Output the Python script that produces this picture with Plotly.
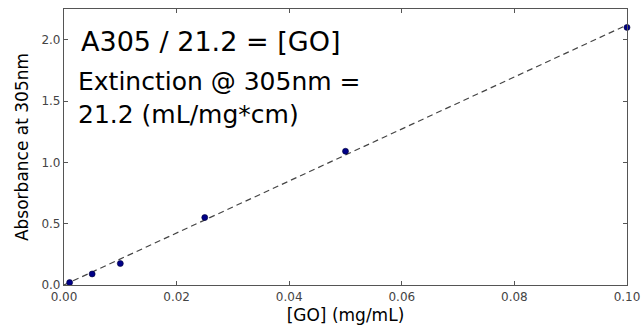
import plotly.graph_objects as go

go_conc = [0.001, 0.005, 0.01, 0.025, 0.05, 0.1]
absorbance = [0.02, 0.09, 0.175, 0.55, 1.09, 2.1]
slope = 21.2
fit_x = [0.0, 0.1]
fit_y = [slope * v for v in fit_x]
x_ticks = [0.0, 0.02, 0.04, 0.06, 0.08, 0.10]
x_tick_labels = ["0.00", "0.02", "0.04", "0.06", "0.08", "0.10"]
y_ticks = [0.0, 0.5, 1.0, 1.5, 2.0]
y_tick_labels = ["0.0", "0.5", "1.0", "1.5", "2.0"]

font = "DejaVu Sans"
fig = go.Figure()
fig.add_trace(go.Scatter(x=fit_x, y=fit_y, mode="lines",
                         line=dict(color="#444444", width=1.2, dash="6px,4px"),
                         showlegend=False, cliponaxis=True))
fig.add_trace(go.Scatter(x=go_conc, y=absorbance, mode="markers",
                         marker=dict(color="#000088", size=6, line=dict(color="#000033", width=0.6)),
                         showlegend=False, cliponaxis=False))

axis_common = dict(showgrid=False, zeroline=False, showline=True, linecolor="#555555",
                   linewidth=1.2, mirror="ticks", ticks="inside", ticklen=4,
                   tickcolor="#555555", automargin=False,
                   tickfont=dict(family=font, size=12, color="#444444"))
fig.update_xaxes(range=[0, 0.1], tickvals=x_ticks, ticktext=x_tick_labels,
                 title=dict(text="[GO] (mg/mL)", font=dict(family=font, size=17, color="black"), standoff=6),
                 **axis_common)
fig.update_yaxes(range=[0, 2.25], tickvals=y_ticks, ticktext=y_tick_labels,
                 title=dict(text="Absorbance at 305nm", font=dict(family=font, size=17, color="black"), standoff=8),
                 **axis_common)

fig.add_annotation(x=0, y=1, xref="paper", yref="paper", xanchor="left", yanchor="top",
                   xshift=15, yshift=-15, showarrow=False, align="left",
                   text="A305 / 21.2 = [GO]", font=dict(family=font, size=27, color="black"))
fig.add_annotation(x=0, y=1, xref="paper", yref="paper", xanchor="left", yanchor="top",
                   xshift=12, yshift=-56, showarrow=False, align="left",
                   text="Extinction @ 305nm =<br>21.2 (mL/mg*cm)",
                   font=dict(family=font, size=25, color="black"))

fig.update_layout(width=643, height=333, margin=dict(l=64, r=16, t=9, b=48),
                  plot_bgcolor="white", paper_bgcolor="white",
                  font=dict(family=font))
fig.write_html("out.html", config={"displayModeBar": False},
               post_script="document.body.style.margin='0';document.body.style.overflow='hidden';")
